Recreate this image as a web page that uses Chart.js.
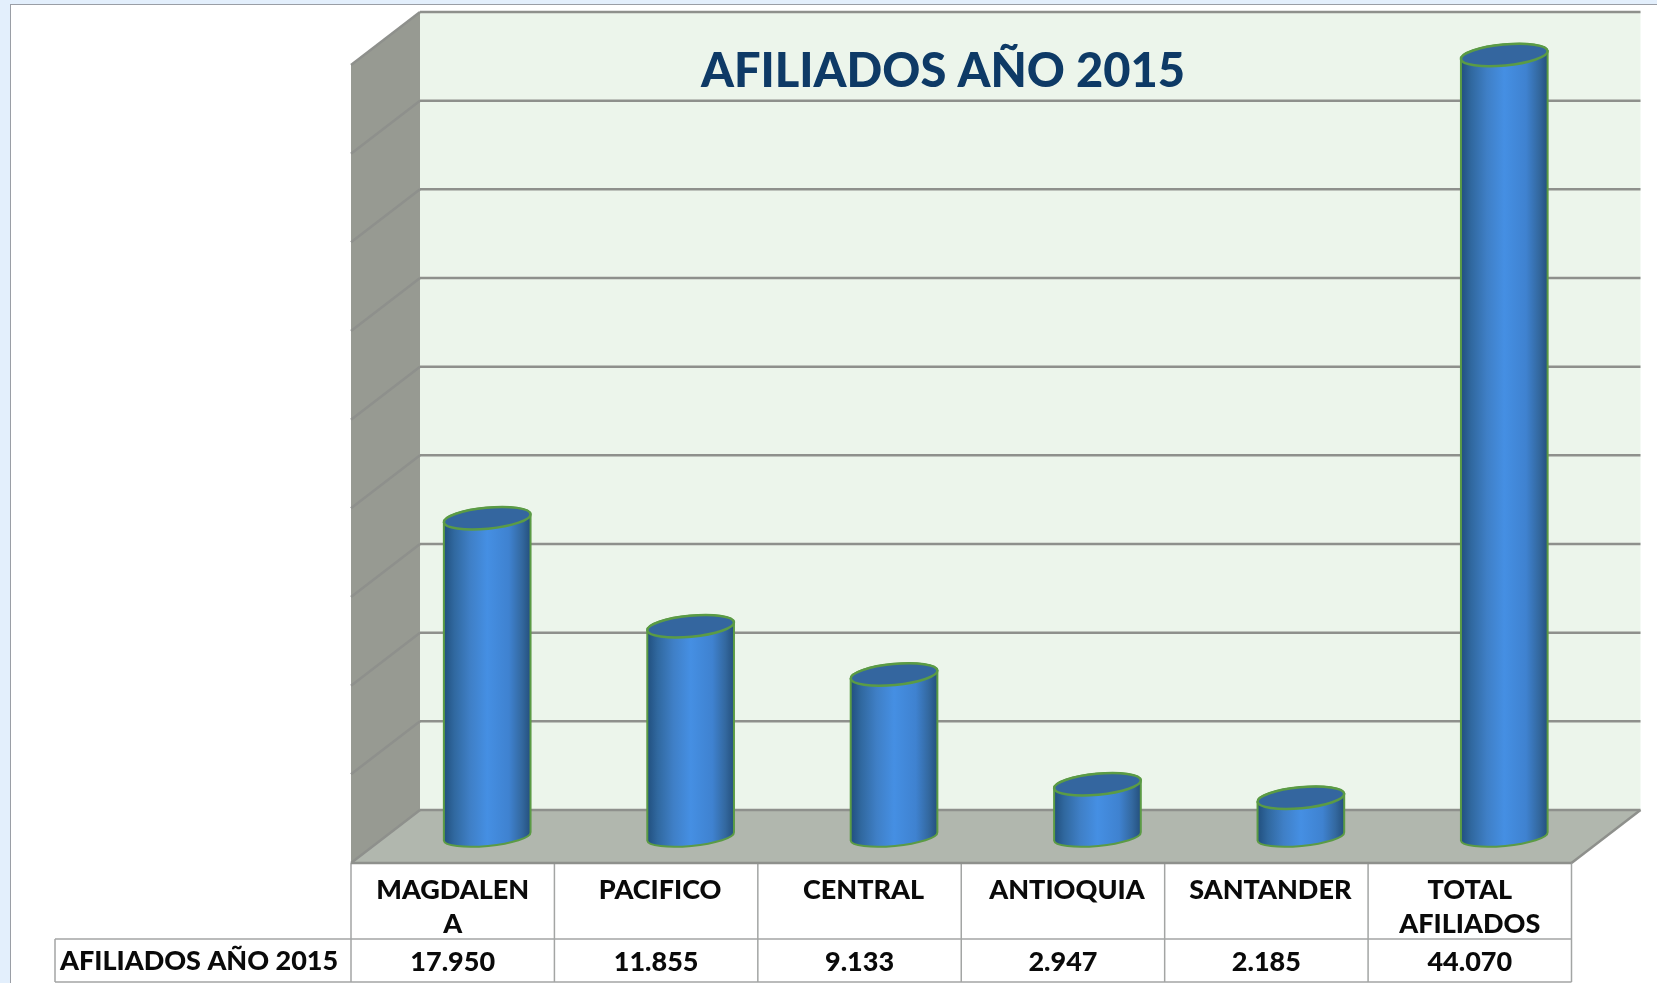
<!DOCTYPE html>
<html>
<head>
<meta charset="utf-8">
<title>Afiliados año 2015</title>
<script src="https://cdn.jsdelivr.net/npm/chart.js@4"></script>
<style>
    html, body { margin: 0; padding: 0; background: #e3effc; overflow: hidden; }
    #panel { position: absolute; left: 10px; top: 4px; width: 1650px; height: 985px; background: #fff; border: 1.5px solid #9a9ea6; box-sizing: border-box; }
    #wrap { position: absolute; left: 0; top: 0; width: 1657px; height: 983px; }
</style>
</head>
<body>
<div id="panel"></div>
<div id="wrap"><canvas id="chart" width="1657" height="983"></canvas></div>
<script>
const categories = [["MAGDALEN", "A"], ["PACIFICO"], ["CENTRAL"], ["ANTIOQUIA"], ["SANTANDER"], ["TOTAL", "AFILIADOS"]];
const afiliados = [17950, 11855, 9133, 2947, 2185, 44070];
const seriesName = "AFILIADOS AÑO 2015";
const chartTitle = "AFILIADOS AÑO 2015";

const depthX = 34.5;
const depthY = 26.5;
const capRy = 10.5;
const baseRy = 9.5;
const capTilt = -0.095;
const lineColor = "#8e908c";
const labelFont = "900 27px Lato";

function formatValue(v) {
    return String(v).replace(/\B(?=(\d{3})+$)/g, ".");
}

function cylinderGradient(ctx, left, right) {
    const g = ctx.createLinearGradient(left, 0, right, 0);
    g.addColorStop(0, "#214f7e");
    g.addColorStop(0.12, "#30689f");
    g.addColorStop(0.3, "#3f7fc6");
    g.addColorStop(0.5, "#458fe3");
    g.addColorStop(0.75, "#3f82d0");
    g.addColorStop(0.9, "#33689f");
    g.addColorStop(1, "#244f7c");
    return g;
}

function barFill(c) {
    const chart = c.chart;
    const xScale = chart.scales.x;
    if (!xScale || !chart.chartArea) return "#458fe3";
    const cx = xScale.getPixelForValue(c.dataIndex);
    const w = (xScale.width / categories.length) * 0.428;
    return cylinderGradient(chart.ctx, cx - w / 2, cx + w / 2);
}

function silhouette(ctx, bar) {
    const rx = bar.width / 2;
    ctx.moveTo(bar.x - rx * Math.cos(capTilt), bar.y - rx * Math.sin(capTilt));
    ctx.ellipse(bar.x, bar.y, rx, capRy, capTilt, Math.PI, Math.PI * 2);
    ctx.lineTo(bar.x + rx * Math.cos(capTilt), bar.base + rx * Math.sin(capTilt));
    ctx.ellipse(bar.x, bar.base, rx, baseRy, capTilt, 0, Math.PI);
    ctx.closePath();
}

function line(ctx, x1, y1, x2, y2) {
    ctx.beginPath();
    ctx.moveTo(x1, y1);
    ctx.lineTo(x2, y2);
    ctx.stroke();
}

// back wall, side wall and floor, placed around the plane of the bars
const wallsPlugin = {
    id: "walls",
    beforeDatasetsDraw(chart) {
        const ctx = chart.ctx;
        const { left, right } = chart.chartArea;
        const y = chart.scales.y;
        const y0 = y.getPixelForValue(0);
        const yMax = y.getPixelForValue(y.max);

        ctx.save();
        ctx.fillStyle = "#ecf5eb";
        ctx.fillRect(left + depthX, yMax - depthY, right - left, y0 - yMax);

        ctx.fillStyle = "#979a92";
        ctx.beginPath();
        ctx.moveTo(left - depthX, yMax + depthY);
        ctx.lineTo(left + depthX, yMax - depthY);
        ctx.lineTo(left + depthX, y0 - depthY);
        ctx.lineTo(left - depthX, y0 + depthY);
        ctx.closePath();
        ctx.fill();

        ctx.fillStyle = "#b1b7ae";
        ctx.beginPath();
        ctx.moveTo(left - depthX, y0 + depthY);
        ctx.lineTo(left + depthX, y0 - depthY);
        ctx.lineTo(right + depthX, y0 - depthY);
        ctx.lineTo(right - depthX, y0 + depthY);
        ctx.closePath();
        ctx.fill();

        ctx.strokeStyle = lineColor;
        ctx.lineWidth = 2.5;
        y.ticks.forEach(t => {
            const py = y.getPixelForValue(t.value);
            line(ctx, left - depthX, py + depthY, left + depthX, py - depthY);
            line(ctx, left + depthX, py - depthY, right + depthX, py - depthY);
        });
        line(ctx, right - depthX, y0 + depthY, right + depthX, y0 - depthY);
        ctx.restore();

        // lower half of each cylinder, then clip the real bars to the same outline
        const bars = chart.getDatasetMeta(0).data;
        ctx.save();
        bars.forEach(bar => {
            ctx.fillStyle = cylinderGradient(ctx, bar.x - bar.width / 2, bar.x + bar.width / 2);
            ctx.beginPath();
            silhouette(ctx, bar);
            ctx.fill();
        });
        ctx.restore();

        ctx.save();
        ctx.beginPath();
        bars.forEach(bar => silhouette(ctx, bar));
        ctx.clip();
    },
    afterDatasetsDraw(chart) {
        const ctx = chart.ctx;
        ctx.restore();
        ctx.save();
        chart.getDatasetMeta(0).data.forEach(bar => {
            ctx.strokeStyle = "#5b9b45";
            ctx.lineWidth = 2;
            ctx.beginPath();
            silhouette(ctx, bar);
            ctx.stroke();
            ctx.fillStyle = "#34669f";
            ctx.lineWidth = 2.5;
            ctx.beginPath();
            ctx.ellipse(bar.x, bar.y, bar.width / 2, capRy, capTilt, 0, Math.PI * 2);
            ctx.fill();
            ctx.stroke();
        });
        ctx.restore();
    }
};

// title and the data table under the floor
const tablePlugin = {
    id: "dataTable",
    afterDraw(chart) {
        const ctx = chart.ctx;
        const { left, right } = chart.chartArea;
        const xScale = chart.scales.x;
        const yFront = chart.scales.y.getPixelForValue(0) + depthY;
        const rowMid = yFront + 76;
        const rowEnd = yFront + 119;
        const labelLeft = 55;
        const tableLeft = left - depthX;
        const tableRight = right - depthX;
        const cellW = (right - left) / categories.length;

        ctx.save();
        ctx.fillStyle = "#0e3a66";
        ctx.font = "900 47px Lato";
        ctx.textAlign = "center";
        ctx.textBaseline = "middle";
        ctx.fillText(chartTitle, 943, 72);

        ctx.strokeStyle = "#a3a5a4";
        ctx.lineWidth = 1.5;
        line(ctx, labelLeft, rowMid, tableRight, rowMid);
        line(ctx, labelLeft, rowEnd, tableRight, rowEnd);
        line(ctx, labelLeft, rowMid, labelLeft, rowEnd);
        for (let i = 0; i <= categories.length; i++) {
            line(ctx, tableLeft + cellW * i, yFront, tableLeft + cellW * i, rowEnd);
        }
        ctx.strokeStyle = lineColor;
        ctx.lineWidth = 2.5;
        line(ctx, tableLeft, yFront, tableRight, yFront);

        ctx.fillStyle = "#0a0a0a";
        ctx.font = labelFont;
        categories.forEach((lines, i) => {
            const cx = xScale.getPixelForValue(i) - depthX;
            // one line labels sit a little right of the cell centre in the original
            const shift = lines.length === 1 ? 4 : 0;
            lines.forEach((text, k) => ctx.fillText(text, cx + shift, yFront + 27 + k * 34));
            ctx.fillText(formatValue(afiliados[i]), cx, rowMid + 23);
        });
        ctx.textAlign = "left";
        ctx.fillText(seriesName, 60, rowMid + 22);
        ctx.restore();
    }
};

new Chart(document.getElementById("chart"), {
    type: "bar",
    data: {
        labels: categories,
        datasets: [{
            label: seriesName,
            data: afiliados,
            backgroundColor: barFill,
            borderWidth: 0,
            barPercentage: 1,
            categoryPercentage: 0.428
        }]
    },
    options: {
        responsive: false,
        animation: false,
        layout: { padding: { left: 385.5, right: 51, top: 38.5, bottom: 146.5 } },
        plugins: { legend: { display: false }, tooltip: { enabled: false }, title: { display: false } },
        scales: {
            x: { display: false },
            y: { display: false, min: 0, max: 45000, ticks: { stepSize: 5000 } }
        }
    },
    plugins: [wallsPlugin, tablePlugin]
});
</script>
</body>
</html>
